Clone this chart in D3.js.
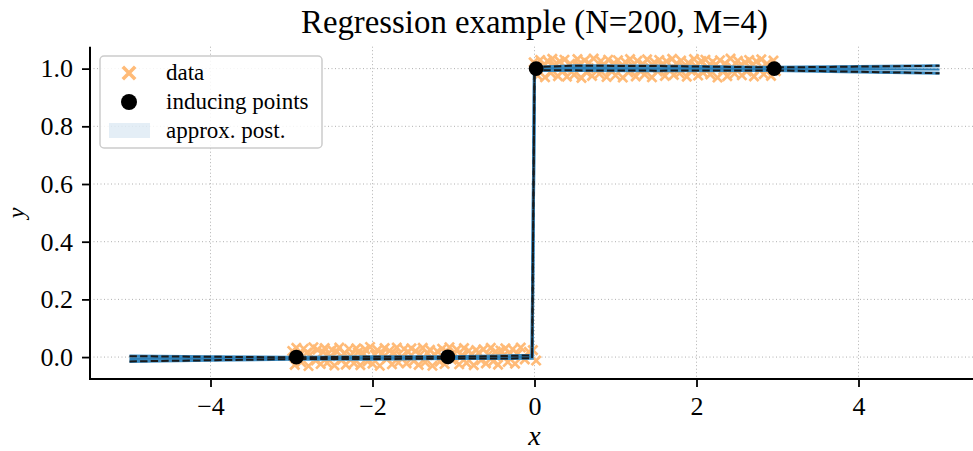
<!DOCTYPE html>
<html><head><meta charset="utf-8">
<script src="https://cdn.jsdelivr.net/npm/d3@7"></script>
<style>body{margin:0;background:#fff}svg{display:block}</style>
</head><body>
<svg id="c" width="973" height="451"></svg>
<script>
const titleText = "Regression example (N=200, M=4)";
const xTicks = [-4, -2, 0, 2, 4];
const yTicks = [0.0, 0.2, 0.4, 0.6, 0.8, 1.0];
const legendLabels = ["data", "inducing points", "approx. post."];

// observations (orange crosses)
const dataXLeft = [-2.99,-2.96,-2.94,-2.90,-2.88,-2.85,-2.81,-2.79,-2.77,-2.73,
-2.70,-2.68,-2.64,-2.61,-2.59,-2.56,-2.52,-2.50,-2.47,-2.44,
-2.41,-2.38,-2.35,-2.33,-2.29,-2.27,-2.23,-2.20,-2.18,-2.15,
-2.11,-2.09,-2.06,-2.03,-2.00,-1.97,-1.94,-1.91,-1.88,-1.85,
-1.82,-1.79,-1.76,-1.73,-1.70,-1.68,-1.64,-1.61,-1.58,-1.56,
-1.52,-1.49,-1.47,-1.43,-1.41,-1.38,-1.35,-1.32,-1.29,-1.26,
-1.23,-1.20,-1.17,-1.14,-1.11,-1.08,-1.05,-1.02,-0.99,-0.96,
-0.93,-0.90,-0.87,-0.84,-0.81,-0.78,-0.75,-0.72,-0.69,-0.66,
-0.63,-0.60,-0.57,-0.54,-0.51,-0.48,-0.45,-0.42,-0.39,-0.36,
-0.33,-0.30,-0.27,-0.24,-0.21,-0.17,-0.12,-0.07,-0.02,0.02];
const dataYLeft = [0.021,-0.027,0.032,0.006,-0.018,0.029,0.015,-0.031,0.009,0.034,
-0.012,0.026,-0.024,0.017,0.031,-0.020,0.003,0.025,-0.029,0.019,
0.033,-0.010,0.013,-0.026,0.028,0.005,-0.021,0.030,0.016,-0.028,
0.011,0.027,-0.015,0.035,-0.023,0.008,0.024,-0.030,0.014,0.031,
-0.006,0.022,-0.025,0.012,0.033,-0.019,0.002,0.028,-0.022,0.018,
0.030,-0.013,0.021,-0.027,0.009,0.032,-0.018,0.014,0.025,-0.030,
0.007,0.020,-0.016,0.029,-0.024,0.017,0.034,-0.009,0.012,0.026,
-0.025,0.005,0.031,-0.020,0.022,0.010,-0.028,0.024,0.015,-0.011,
0.027,-0.022,0.008,0.032,-0.014,0.019,-0.026,0.023,0.003,0.030,
-0.017,0.013,0.027,-0.023,0.010,0.033,-0.008,0.018,0.024,-0.012];
const dataXRight = [-0.01,0.04,0.07,0.11,0.13,0.16,0.20,0.22,0.25,0.29,
0.31,0.35,0.37,0.40,0.44,0.46,0.49,0.53,0.55,0.58,
0.62,0.64,0.67,0.71,0.73,0.76,0.80,0.82,0.85,0.89,
0.91,0.94,0.98,1.00,1.03,1.07,1.09,1.12,1.16,1.18,
1.21,1.25,1.27,1.30,1.34,1.36,1.39,1.43,1.45,1.48,
1.52,1.54,1.57,1.61,1.63,1.66,1.70,1.72,1.75,1.79,
1.81,1.84,1.88,1.90,1.93,1.97,1.99,2.02,2.06,2.08,
2.11,2.15,2.17,2.20,2.24,2.26,2.29,2.33,2.35,2.38,
2.42,2.44,2.47,2.51,2.53,2.56,2.60,2.62,2.65,2.69,
2.71,2.74,2.78,2.80,2.83,2.87,2.89,2.92,2.95,2.98];
const dataYRight = [1.022,0.976,1.030,1.008,0.970,1.027,0.985,1.034,1.012,0.974,
1.025,0.992,1.031,0.972,1.017,1.004,0.979,1.033,1.014,0.968,
1.028,0.988,1.020,0.975,1.035,1.002,0.982,1.026,1.010,0.971,
1.031,0.995,1.019,0.977,1.029,1.006,0.969,1.023,0.987,1.033,
1.011,0.973,1.027,0.994,1.016,0.980,1.032,1.003,0.970,1.022,
0.990,1.030,1.012,0.975,1.025,0.997,1.034,0.978,1.017,0.984,
1.028,1.006,0.972,1.020,0.993,1.033,1.009,0.976,1.026,0.986,
1.031,1.000,0.980,1.024,1.014,0.969,1.029,0.995,1.018,0.974,
1.035,1.004,0.983,1.027,1.008,0.977,1.022,0.990,1.030,1.012,
0.973,1.025,0.996,1.032,0.981,1.017,1.003,0.975,1.028,0.991];

// inducing points
const inducingX = [-2.94, -1.07, 0.02, 2.96];
const inducingY = [0.0, 0.001, 1.0, 1.0];

// approximate posterior (mean and 2-sigma half width)
const postX    = [-5, -4, -3, -2, -1.07, -0.5, -0.03, 0.0, 0.5, 1.5, 2.96, 4, 5];
const postMean = [-0.006, -0.005, -0.004, -0.003, -0.002, -0.001, 0.001, 1.0, 1.002, 1.001, 0.999, 0.998, 0.997];
const post2Sd  = [0.009, 0.006, 0.003, 0.004, 0.003, 0.004, 0.005, 0.005, 0.008, 0.008, 0.005, 0.009, 0.013];

(function () {
const svg = d3.select("#c");
const FONT = "'Liberation Serif', 'Times New Roman', serif";
const x = d3.scaleLinear().domain([-5.5, 5.5]).range([89, 980]);
const y = d3.scaleLinear().domain([-0.076, 1.076]).range([379, 46.7]);
const pL = 90, pB = 379, pT = 46.7, pR = 973;

// grid
const grid = svg.append("g").attr("stroke", "#b0b0b0").attr("stroke-width", 1).attr("stroke-dasharray", "1,2.5");
xTicks.forEach(t => grid.append("line").attr("x1", x(t)).attr("x2", x(t)).attr("y1", pT).attr("y2", pB));
yTicks.forEach(t => grid.append("line").attr("x1", pL).attr("x2", pR).attr("y1", y(t)).attr("y2", y(t)));

const plot = svg.append("g");
const dataPts = dataXLeft.map((v, i) => [v, dataYLeft[i]]).concat(dataXRight.map((v, i) => [v, dataYRight[i]]));
const cross = (s) => `M${-s},${-s}L${s},${s}M${-s},${s}L${s},${-s}`;
plot.append("g").selectAll("path").data(dataPts).join("path")
  .attr("transform", d => `translate(${x(d[0])},${y(d[1])})`)
  .attr("d", cross(4.6)).attr("stroke", "#ffbb78").attr("stroke-width", 2.7).attr("fill", "none");

const post = postX.map((v, i) => ({x: v, m: postMean[i], s: post2Sd[i]}));
plot.append("path").datum(post)
  .attr("d", d3.area().x(d => x(d.x)).y0(d => y(d.m - d.s)).y1(d => y(d.m + d.s)))
  .attr("fill", "#1f77b4").attr("fill-opacity", 0.1);
const lineU = d3.line().x(d => x(d.x)).y(d => y(d.m + d.s));
const lineL = d3.line().x(d => x(d.x)).y(d => y(d.m - d.s));
const lineM = d3.line().x(d => x(d.x)).y(d => y(d.m));
[lineU, lineL].forEach(l => plot.append("path").datum(post).attr("d", l)
  .attr("fill", "none").attr("stroke", "#3a8bc2").attr("stroke-width", 3.2));
plot.append("path").datum(post).attr("d", lineM)
  .attr("fill", "none").attr("stroke", "#2b7fb8").attr("stroke-width", 2.2);
[lineU, lineL].forEach(l => plot.append("path").datum(post).attr("d", l)
  .attr("fill", "none").attr("stroke", "#1a1a1a").attr("stroke-width", 2).attr("stroke-dasharray", "7.4,3.2"));
plot.append("g").selectAll("circle").data(inducingX.map((v, i) => [v, inducingY[i]])).join("circle")
  .attr("cx", d => x(d[0])).attr("cy", d => y(d[1])).attr("r", 7.4).attr("fill", "#000");

// axes
const xAxis = d3.axisBottom(x).tickValues(xTicks).tickSize(8).tickPadding(10)
  .tickFormat(d => d < 0 ? "\u2212" + Math.abs(d) : String(d));
const gx = svg.append("g").attr("transform", `translate(0,${pB})`).call(xAxis);
gx.select(".domain").remove();
gx.append("line").attr("x1", pL - 1).attr("x2", pR).attr("y1", 0).attr("y2", 0).attr("stroke", "#000").attr("stroke-width", 2);
gx.selectAll(".tick line").attr("stroke", "#000").attr("stroke-width", 1.8);
gx.selectAll(".tick text").attr("font-family", FONT).attr("font-size", 26).attr("fill", "#000");

const yAxis = d3.axisLeft(y).tickValues(yTicks).tickSize(8).tickPadding(9).tickFormat(d3.format(".1f"));
const gy = svg.append("g").attr("transform", `translate(${pL},0)`).call(yAxis);
gy.select(".domain").remove();
gy.append("line").attr("x1", 0).attr("x2", 0).attr("y1", pT).attr("y2", pB + 1).attr("stroke", "#000").attr("stroke-width", 2);
gy.selectAll(".tick line").attr("stroke", "#000").attr("stroke-width", 1.8);
gy.selectAll(".tick text").attr("font-family", FONT).attr("font-size", 26).attr("fill", "#000");

// labels
svg.append("text").attr("x", 534.5).attr("y", 445).attr("text-anchor", "middle")
  .attr("font-family", FONT).attr("font-style", "italic").attr("font-size", 28).text("x");
svg.append("text").attr("transform", "translate(24,213) rotate(-90)").attr("text-anchor", "middle")
  .attr("font-family", FONT).attr("font-style", "italic").attr("font-size", 24).text("y");
const title = svg.append("text").attr("x", 534.5).attr("y", 33).attr("text-anchor", "middle")
  .attr("font-family", FONT).attr("font-size", 28).text(titleText);
const tw = title.node().getComputedTextLength();
title.attr("font-size", 28 * 467 / tw);

// legend
const lg = svg.append("g");
lg.append("rect").attr("x", 100).attr("y", 56).attr("width", 222).attr("height", 92).attr("rx", 4)
  .attr("fill", "#fff").attr("fill-opacity", 0.85).attr("stroke", "#cccccc").attr("stroke-width", 1.5);
const rowsY = [73, 102, 131];
lg.append("path").attr("transform", `translate(129,${rowsY[0]})`).attr("d", cross(6.2))
  .attr("stroke", "#ffbb78").attr("stroke-width", 3.6).attr("fill", "none");
lg.append("circle").attr("cx", 129).attr("cy", rowsY[1]).attr("r", 8).attr("fill", "#000");
lg.append("rect").attr("x", 109).attr("y", rowsY[2] - 8).attr("width", 41).attr("height", 15)
  .attr("fill", "#1f77b4").attr("fill-opacity", 0.12);
legendLabels.forEach((t, i) => lg.append("text").attr("x", 166).attr("y", rowsY[i] + 7)
  .attr("font-family", FONT).attr("font-size", 23).text(t));
})();
</script>
</body></html>
